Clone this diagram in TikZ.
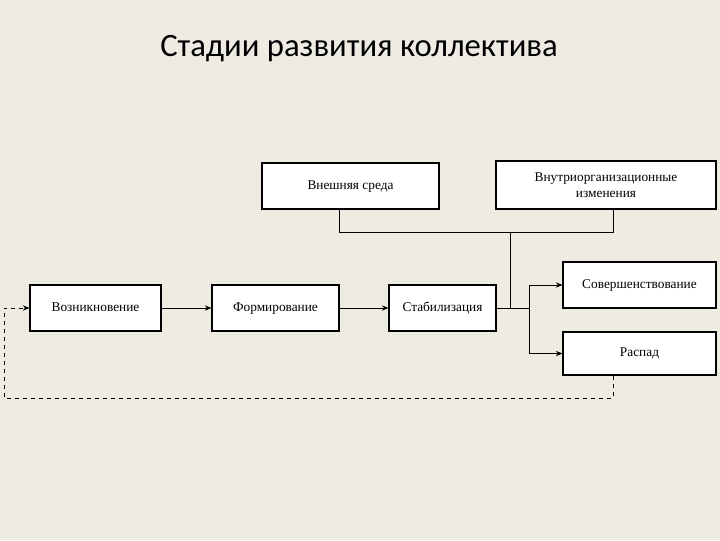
\documentclass[tikz,border=0pt]{standalone}
\usepackage{fontspec}
\setmainfont{Liberation Serif}
\newfontfamily\titlefont{Carlito}
\usetikzlibrary{arrows.meta}
\definecolor{bg}{HTML}{EEEBE2}
\begin{document}
\begin{tikzpicture}[x=0.75pt,y=-0.75pt,
  box/.style={draw,line width=0.8pt,fill=white,minimum height=34.5pt,inner sep=0pt,align=center,text height=7pt,text depth=2pt,font=\fontsize{10}{12}\selectfont},
  ln/.style={line width=0.6pt},
  arr/.style={ln,-{Stealth[length=5pt,width=4pt]}}]
\fill[bg] (0,0) rectangle (720,540);
\useasboundingbox (0,0) rectangle (720,540);
\node[font=\titlefont\fontsize{24.5}{28}\selectfont,anchor=west,inner sep=0pt] (title) at (160,49) {Стадии развития коллектива};
\node[box,minimum width=132.75pt,minimum height=34.5pt] (ext) at (350.5,186) {Внешняя среда};
\node[box,minimum width=165pt,minimum height=36pt,text height=,text depth=] (intr) at (606,185) {Внутриорганизационные\\изменения};
\node[box,minimum width=98.25pt] (voz) at (95.5,308) {Возникновение};
\node[box,minimum width=95.25pt] (form) at (275.5,308) {Формирование};
\node[box,minimum width=80.25pt] (stab) at (442.5,308) {Стабилизация};
\node[box,minimum width=114.75pt] (sov) at (639.5,285) {Совершенствование};
\node[box,minimum width=114.75pt,minimum height=32.25pt] (ras) at (639.5,353.5) {Распад};
\coordinate (busL) at (339,232);
\coordinate (busR) at (613,232);
\coordinate (busM) at (510,232);
\draw[ln] (ext.south -| busL) -- (busL) -- (busR) -- (intr.south -| busR);
\draw[ln] (busM) -- (busM |- stab.east);
\draw[ln] (stab.east) -- (529,308);
\draw[arr] (529,285) |- (ras.west);
\draw[arr] (529,285) -- (sov.west);
\draw[arr] (voz) -- (form);
\draw[arr] (form) -- (stab);
\draw[ln,dashed,-{Stealth[length=5pt,width=4pt]}] (ras.south -| busR) -- (613,398) -- (4,398) -- (4,308) -- (voz.west);
\end{tikzpicture}
\end{document}
